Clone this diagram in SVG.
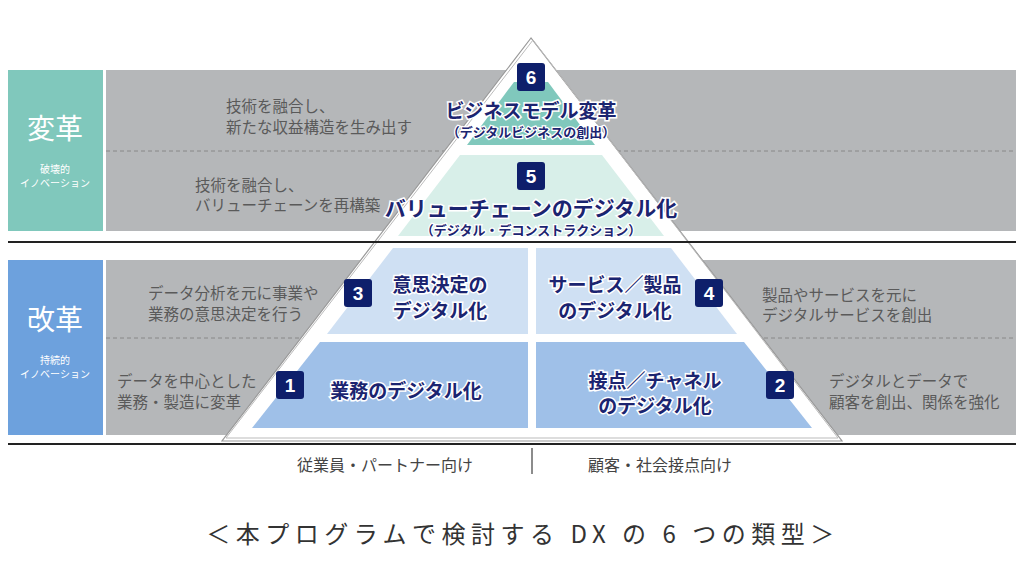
<svg xmlns="http://www.w3.org/2000/svg" width="1024" height="576" viewBox="0 0 1024 576">
<style>
text{font-family:"Noto Sans CJK JP","Noto Sans",sans-serif}
.desc{font-size:15.5px;fill:#5a5a5a}
.ttl{fill:#1b2470;font-weight:bold;stroke:#fff;stroke-width:3;paint-order:stroke;text-anchor:middle}
.sub{fill:#1b2470;font-size:13px;font-weight:bold;stroke:#fff;stroke-width:2.5;paint-order:stroke;text-anchor:middle}
.badge{fill:#0e1f6b}
.bn{fill:#fff;font-size:19px;font-weight:bold;text-anchor:middle;font-family:"Liberation Sans",sans-serif}
.lbl{fill:#fff;text-anchor:middle}
.dash{stroke:#888;stroke-width:1;stroke-dasharray:4 3}
</style>
<rect width="1024" height="576" fill="#fff"/>
<g id="bands">
<rect x="8" y="70" width="95" height="161" fill="#80c8bc"/>
<rect x="106" y="70" width="910" height="161" fill="#b5b7b9"/>
<rect x="8" y="260" width="95" height="175" fill="#6da1dd"/>
<rect x="106" y="260" width="910" height="175" fill="#b5b7b9"/>
<line class="dash" x1="106" y1="151" x2="1016" y2="151"/>
<line class="dash" x1="106" y1="338" x2="1016" y2="338"/>
<text class="lbl" x="55" y="139" font-size="28">変革</text>
<text class="lbl" x="55" y="173" font-size="10">破壊的</text>
<text class="lbl" x="55" y="187" font-size="10">イノベーション</text>
<text class="lbl" x="55" y="330" font-size="28">改革</text>
<text class="lbl" x="55" y="364" font-size="10">持続的</text>
<text class="lbl" x="55" y="378" font-size="10">イノベーション</text>
</g>
<g id="pyramid">
<polygon points="531,38 222,441 842,441" fill="#fff" stroke="#999" stroke-width="1.2"/>
<polyline points="533,40 226,438 838,438 533,40" fill="none" stroke="#bbb" stroke-width="1"/>
<line x1="8" y1="242" x2="1016" y2="242" stroke="#222" stroke-width="2"/>
<line x1="8" y1="444" x2="1016" y2="444" stroke="#222" stroke-width="2"/>
</g>
<g id="n6">
<polygon points="514,82 548,82 595,145 467,145" fill="#80c8bc"/>
<rect class="badge" x="517" y="63" width="28" height="28" rx="3"/>
<text class="bn" x="531" y="84">6</text>
<text class="ttl" x="531" y="118" font-size="19">ビジネスモデル変革</text>
<text class="sub" x="531" y="137">（デジタルビジネスの創出）</text>
</g>
<g id="n5">
<polygon points="460,155 602,155 664,236 398,236" fill="#d8efe9"/>
<rect class="badge" x="517" y="162" width="28" height="28" rx="3"/>
<text class="bn" x="531" y="183">5</text>
<text class="ttl" x="531" y="216" font-size="21">バリューチェーンのデジタル化</text>
<text class="sub" x="531" y="235">（デジタル・デコンストラクション）</text>
</g>
<g id="n3">
<polygon points="393,248 528,248 528,334 327,334" fill="#cfe0f3"/>
<rect class="badge" x="344" y="279" width="28" height="28" rx="3"/>
<text class="bn" x="358" y="300">3</text>
<text class="ttl" x="440" y="292" font-size="19">意思決定の</text>
<text class="ttl" x="440" y="318" font-size="19">デジタル化</text>
</g>
<g id="n4">
<polygon points="536,248 671,248 737,334 536,334" fill="#cfe0f3"/>
<rect class="badge" x="695" y="279" width="28" height="28" rx="3"/>
<text class="bn" x="709" y="300">4</text>
<text class="ttl" x="615" y="292" font-size="19">サービス／製品</text>
<text class="ttl" x="615" y="318" font-size="19">のデジタル化</text>
</g>
<g id="n1">
<polygon points="320,342 528,342 528,428 252,428" fill="#9fc0e8"/>
<rect class="badge" x="276" y="371" width="28" height="28" rx="3"/>
<text class="bn" x="290" y="392">1</text>
<text class="ttl" x="406" y="398" font-size="19">業務のデジタル化</text>
</g>
<g id="n2">
<polygon points="536,342 744,342 812,428 536,428" fill="#9fc0e8"/>
<rect class="badge" x="766" y="371" width="28" height="28" rx="3"/>
<text class="bn" x="780" y="392">2</text>
<text class="ttl" x="655" y="388" font-size="19">接点／チャネル</text>
<text class="ttl" x="655" y="413" font-size="19">のデジタル化</text>
</g>
<g id="descriptions">
<text class="desc" x="226" y="112">技術を融合し、</text>
<text class="desc" x="226" y="133">新たな収益構造を生み出す</text>
<text class="desc" x="195" y="191">技術を融合し、</text>
<text class="desc" x="195" y="211">バリューチェーンを再構築</text>
<text class="desc" x="148" y="299">データ分析を元に事業や</text>
<text class="desc" x="148" y="320">業務の意思決定を行う</text>
<text class="desc" x="117" y="387">データを中心とした</text>
<text class="desc" x="117" y="408">業務・製造に変革</text>
<text class="desc" x="762" y="301">製品やサービスを元に</text>
<text class="desc" x="762" y="321">デジタルサービスを創出</text>
<text class="desc" x="829" y="387">デジタルとデータで</text>
<text class="desc" x="829" y="408">顧客を創出、関係を強化</text>
</g>
<g id="connectors">
<line x1="532" y1="448" x2="532" y2="474" stroke="#666" stroke-width="1.5"/>
</g>
<g id="footer">
<text x="385" y="471" font-size="16" fill="#444" text-anchor="middle">従業員・パートナー向け</text>
<text x="660" y="471" font-size="16" fill="#444" text-anchor="middle">顧客・社会接点向け</text>
<text x="523" y="543" font-size="24" fill="#333" text-anchor="middle" letter-spacing="5.5">＜本プログラムで検討する DX の 6 つの類型＞</text>
</g>
</svg>
